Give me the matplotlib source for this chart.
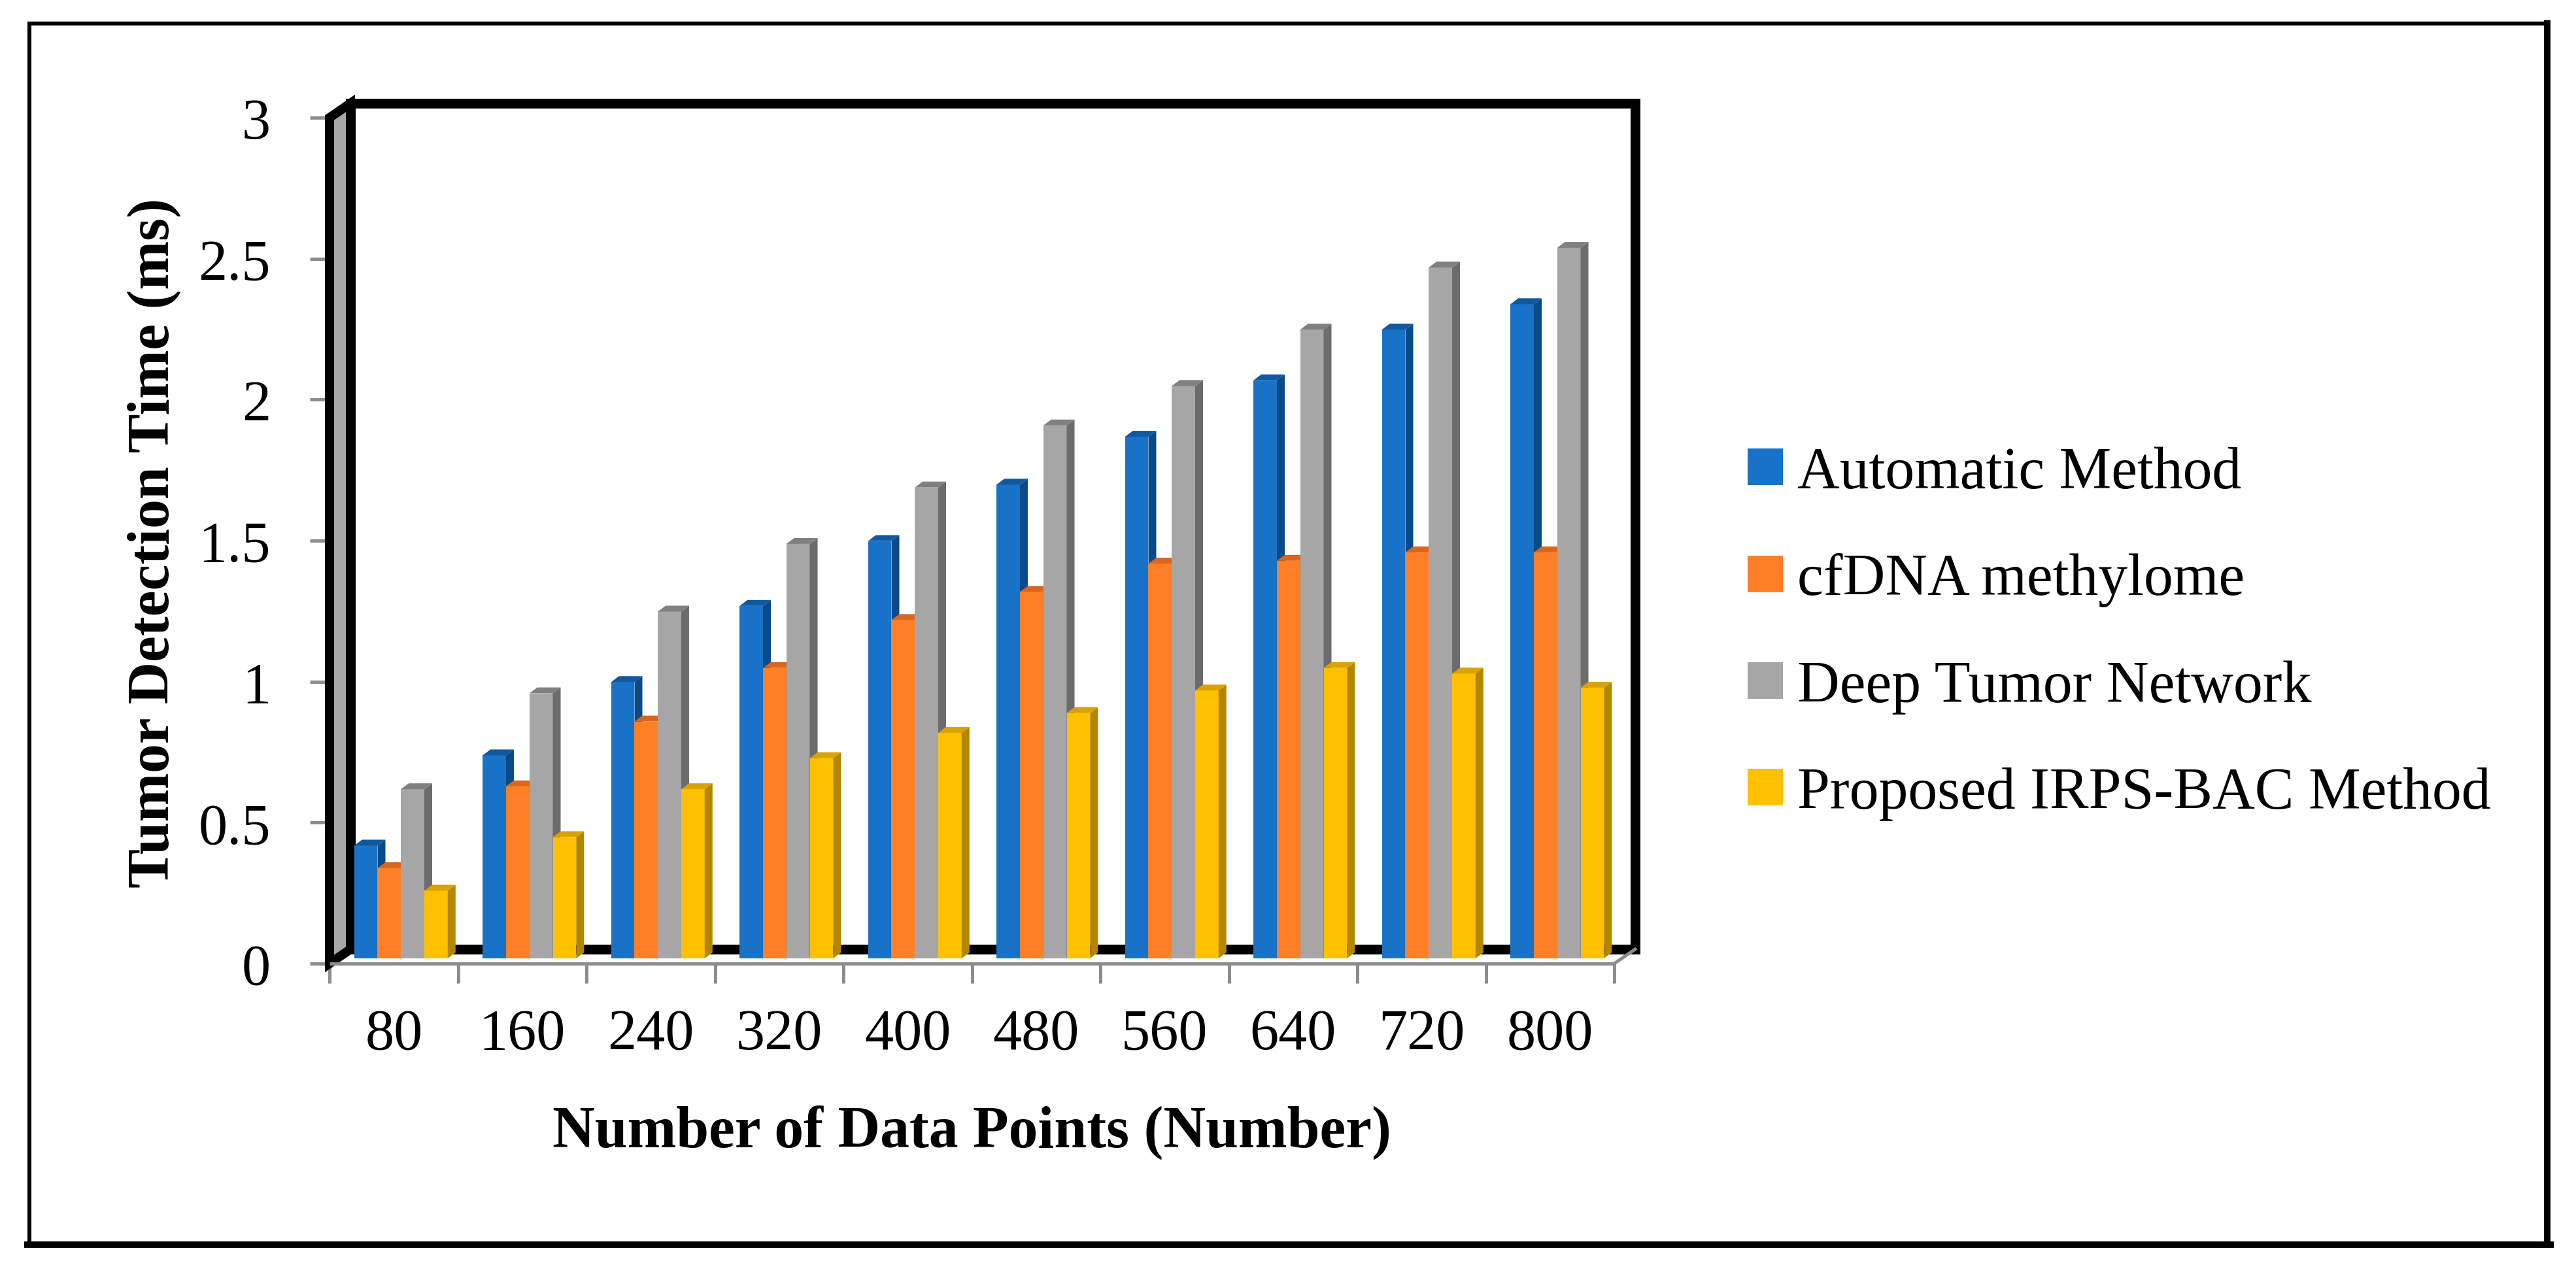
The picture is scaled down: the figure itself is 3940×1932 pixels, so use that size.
import matplotlib
matplotlib.use('Agg')
import matplotlib.pyplot as plt
import matplotlib.transforms as mtransforms
from matplotlib.patches import Rectangle, Polygon
from matplotlib.lines import Line2D
import numpy as np

# ---------------- data ----------------
categories = ['80', '160', '240', '320', '400', '480', '560', '640', '720', '800']
automatic_method = [0.40, 0.72, 0.98, 1.25, 1.48, 1.68, 1.85, 2.05, 2.23, 2.32]
cfdna_methylome = [0.32, 0.61, 0.84, 1.03, 1.20, 1.30, 1.40, 1.41, 1.44, 1.44]
deep_tumor_network = [0.60, 0.94, 1.23, 1.47, 1.67, 1.89, 2.03, 2.23, 2.45, 2.52]
proposed_irps_bac = [0.24, 0.43, 0.60, 0.71, 0.80, 0.87, 0.95, 1.03, 1.01, 0.96]
series_names = ['Automatic Method', 'cfDNA methylome', 'Deep Tumor Network',
                'Proposed IRPS-BAC Method']
y_ticks = [0, 0.5, 1, 1.5, 2, 2.5, 3]
y_tick_labels = ['0', '0.5', '1', '1.5', '2', '2.5', '3']
x_label = 'Number of Data Points (Number)'
y_label = 'Tumor Detection Time (ms)'

series = [automatic_method, cfdna_methylome, deep_tumor_network, proposed_irps_bac]
front_colors = ['#1873C8', '#FF7F27', '#A6A6A6', '#FFC000']
side_colors = ['#0A4A88', '#C95E17', '#6C6C6C', '#B38600']
cap_colors = ['#10589F', '#D9661C', '#808080', '#D9A200']

# ---------------- figure ----------------
W, H, DPI = 3940, 1933, 100
fig = plt.figure(figsize=(W / DPI, H / DPI), dpi=DPI)
fig.patch.set_facecolor('white')
FONT = ['Liberation Serif', 'DejaVu Serif']
FS = 63.5
FS_LAB = 64.5


def fx(px):
    return px / W


def fy(py):
    return 1 - py / H


PX = 72.0 / DPI  # points per pixel

ax = fig.add_axes([fx(504), fy(1475), fx(2469) - fx(504), fy(181) - fy(1475)])
ax.set_xlim(0, len(categories))
ax.set_ylim(0, 3)
ax.patch.set_visible(False)
for s in ax.spines.values():
    s.set_visible(False)

wall_tr = mtransforms.offset_copy(ax.transData, fig=fig, x=32, y=22, units='dots')
bar_tr = mtransforms.offset_copy(ax.transData, fig=fig, x=11, y=8, units='dots')
ident = mtransforms.IdentityTransform()
n = len(categories)
ymax = 3

# back wall
ax.add_patch(Rectangle((0, 0), n, ymax, transform=wall_tr, facecolor='white',
                       edgecolor='black', linewidth=15 * PX, joinstyle='miter',
                       zorder=1, clip_on=False))
# side wall
front_pts = ax.transData.transform([(0, 0), (0, ymax)])
back_pts = wall_tr.transform([(0, ymax), (0, 0)])
ax.add_patch(Polygon(np.vstack([front_pts, back_pts]), closed=True, transform=ident,
                     facecolor='#A6A6A6', edgecolor='black', linewidth=14 * PX,
                     joinstyle='miter', zorder=2, clip_on=False))
# floor edges
ax.add_line(Line2D([0, n], [0, 0], color='#8C8C8C', linewidth=5 * PX, zorder=2,
                   clip_on=False, solid_capstyle='butt'))
fr = ax.transData.transform([(n, 0)])[0]
bk = wall_tr.transform([(n, 0)])[0]
ax.add_line(Line2D([fr[0], bk[0]], [fr[1], bk[1]], transform=ident, color='#8C8C8C',
                   linewidth=5 * PX, zorder=2, clip_on=False))

# bars
w = 0.182
x_centers = np.arange(n) + 0.5
depth = np.array([12, 9])
for j, vals in enumerate(series):
    xs = x_centers + (j - 1.5) * w
    ax.bar(xs, vals, w, color=front_colors[j], transform=bar_tr, linewidth=0,
           zorder=10 + 3 * j, clip_on=False)
    for xc, v in zip(xs, vals):
        tl, tr, br = bar_tr.transform([(xc - w / 2, v), (xc + w / 2, v), (xc + w / 2, 0)])
        side = np.array([br, tr, tr + depth, br + depth])
        cap = np.array([tl, tr, tr + depth, tl + depth])
        ax.add_patch(Polygon(side, closed=True, transform=ident, facecolor=side_colors[j],
                             linewidth=0, zorder=11 + 3 * j, clip_on=False))
        ax.add_patch(Polygon(cap, closed=True, transform=ident, facecolor=cap_colors[j],
                             linewidth=0, zorder=12 + 3 * j, clip_on=False))

# ticks
ax.set_yticks(y_ticks)
ax.set_yticklabels(y_tick_labels, fontsize=FS, family=FONT)
ax.tick_params(axis='y', length=30 * PX, width=5 * PX, color='#8C8C8C',
               pad=60 * PX, labelcolor='black')
ax.set_xticks(np.arange(n + 1))
ax.set_xticklabels([])
ax.tick_params(axis='x', which='major', length=30 * PX, width=5 * PX, color='#8C8C8C')
ax.set_xticks(x_centers, minor=True)
ax.set_xticklabels(categories, minor=True, fontsize=FS, family=FONT)
ax.tick_params(axis='x', which='minor', length=0, pad=68 * PX)

# axis labels
ax.set_ylabel(y_label, fontsize=FS_LAB, family=FONT, fontweight='bold', ha='center', va='center')
ax.yaxis.set_label_coords((236 - 504) / 1965, (1475 - 831) / 1294)
ax.set_xlabel(x_label, fontsize=FS_LAB, family=FONT, fontweight='bold', ha='center', va='center')
ax.xaxis.set_label_coords(0.5, (1475 - 1732) / 1294)

# legend
handles = [Rectangle((0, 0), 1, 1, facecolor=c, edgecolor='none') for c in front_colors]
fig.legend(handles, series_names, loc='center left', bbox_to_anchor=(fx(2673), fy(969.5)),
           frameon=False, prop={'family': FONT, 'size': FS_LAB}, handlelength=0.6,
           handleheight=0.58, handletextpad=0.25, labelspacing=0.9, borderpad=0,
           borderaxespad=0)

# outer frame
fig.add_artist(Line2D([fx(45), fx(45)], [fy(37), fy(1905)], transform=fig.transFigure,
                      color='black', linewidth=6 * PX))
fig.add_artist(Line2D([fx(45), fx(3896)], [fy(37), fy(37)], transform=fig.transFigure,
                      color='black', linewidth=6 * PX))
fig.add_artist(Line2D([fx(3896), fx(3896)], [fy(37), fy(1905)], transform=fig.transFigure,
                      color='black', linewidth=10 * PX))
fig.add_artist(Line2D([fx(42), fx(3901)], [fy(1905), fy(1905)], transform=fig.transFigure,
                      color='black', linewidth=10 * PX))

fig.savefig('out.png', dpi=DPI, facecolor='white')
